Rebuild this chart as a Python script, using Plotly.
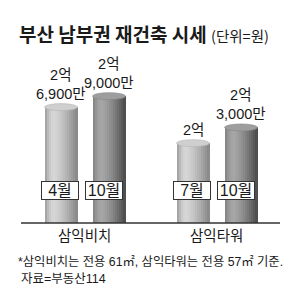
import math
import plotly.graph_objects as go

# ---------------- data ----------------
groups = ["삼익비치", "삼익타워"]
months = [["4월", "10월"], ["7월", "10월"]]
values = [[26900, 29000], [20000, 23000]]   # 단위: 만원
title_text = "부산 남부권 재건축 시세"
unit_text = "(단위=원)"
note_text = "*삼익비치는 전용 61㎡, 삼익타워는 전용 57㎡ 기준."
source_text = "자료=부동산114"

# ---------------- style / layout ----------------
W, H = 300, 307
Y_MIN, Y_MAX = 4700, 47420
BASE_PX = 223
Y_DOMAIN = [(H - BASE_PX) / H, 1.0]
FIRST_X, GROUP_STEP, BAR_STEP = 61, 132, 48
BAR_W = 33
N_STRIPS = 16
# lightness profile (left edge, highlight, right edge) for 1st / 2nd bar of a group
TONES = [(0x9a, 0xd6, 0x86), (0x80, 0xa6, 0x4a)]
TOP_FILL = ["#cfcfcf", "#9e9e9e"]
TOP_LINE = ["#b4b4b4", "#858585"]
BOX_DX = [-1.5, -5]
NARROW = "Liberation Sans Narrow, Liberation Sans, Noto Sans CJK KR, sans-serif"
KR = "Noto Sans CJK KR, sans-serif"
INK = "#1a1a1a"

centers, vals, tones, labels, box_dx = [], [], [], [], []
for g, (ms, vs) in enumerate(zip(months, values)):
    for i, (m, v) in enumerate(zip(ms, vs)):
        centers.append(FIRST_X + g * GROUP_STEP + i * BAR_STEP)
        vals.append(v)
        tones.append(i)
        labels.append(m)
        box_dx.append(BOX_DX[i])


def shade(t, L0, Lp, Lr, tp=0.27):
    if t < tp:
        s = t / tp
        L = L0 + (Lp - L0) * math.sin(s * math.pi / 2)
    else:
        s = (t - tp) / (1 - tp)
        L = Lp - (Lp - Lr) * s ** 1.4
    L = int(round(max(0, min(255, L))))
    return f"rgb({L},{L},{L})"


fig = go.Figure()
sw = BAR_W / N_STRIPS
for k in range(N_STRIPS):
    t = (k + 0.5) / N_STRIPS
    cols = [shade(t, *TONES[tn]) for tn in tones]
    fig.add_trace(go.Bar(
        x=centers, y=vals,
        offset=-BAR_W / 2 + k * sw,
        width=sw + (0.5 if k < N_STRIPS - 1 else 0),
        marker=dict(color=cols, line=dict(width=0)),
        showlegend=False, hoverinfo="skip",
    ))

shapes = []
annotations = []
for c, v, tn, lab, dx in zip(centers, vals, tones, labels, box_dx):
    # cylinder top
    shapes.append(dict(
        type="circle", xref="x", yref="y", ysizemode="pixel", yanchor=v,
        x0=c - BAR_W / 2, x1=c + BAR_W / 2, y0=-3.5, y1=3.5,
        fillcolor=TOP_FILL[tn], line=dict(color=TOP_LINE[tn], width=0.6),
        layer="above",
    ))
    # value label
    eok, man = divmod(v, 10000)
    lines = [f"{eok}억"]
    if man:
        lines.append(f"{man:,}만")
    annotations.append(dict(
        x=c, y=v, xref="x", yref="y", text="<br>".join(lines), showarrow=False,
        yanchor="bottom", xanchor="center", yshift=4, borderpad=0,
        font=dict(family=NARROW, size=14.5, color=INK),
    ))
    # month box
    annotations.append(dict(
        x=c + dx, y=Y_MIN, xref="x", yref="y", text=lab, showarrow=False,
        yanchor="middle", xanchor="center", yshift=BASE_PX - 190.5,
        width=36, height=17, bgcolor="white", bordercolor="#333333",
        borderwidth=1, borderpad=0,
        font=dict(family=NARROW, size=16, color=INK),
    ))

# group labels
for g, name in enumerate(groups):
    cs = centers[g * 2:(g + 1) * 2]
    annotations.append(dict(
        x=sum(cs) / len(cs) - 1, y=Y_MIN, xref="x", yref="y", text=name,
        showarrow=False, yanchor="middle", xanchor="center", yshift=-11,
        font=dict(family=KR, size=14.5, color=INK),
    ))

# baseline
shapes.append(dict(
    type="line", xref="x", yref="paper", x0=21, x1=280,
    y0=Y_DOMAIN[0], y1=Y_DOMAIN[0], line=dict(color="#333333", width=1.5),
    layer="above",
))

# title
annotations.append(dict(
    x=17 / W, y=(H - 33) / H, xref="paper", yref="paper", xanchor="left",
    yanchor="middle", showarrow=False,
    text=f"<b>{title_text}</b> <span style='font-size:14.5px'>{unit_text}</span>",
    font=dict(family=KR, size=19, color=INK),
))
# notes
annotations.append(dict(
    x=16 / W, y=(H - 262) / H, xref="paper", yref="paper", xanchor="left",
    yanchor="middle", showarrow=False, text=note_text,
    font=dict(family=NARROW, size=12.3, color=INK),
))
annotations.append(dict(
    x=19 / W, y=(H - 279) / H, xref="paper", yref="paper", xanchor="left",
    yanchor="middle", showarrow=False, text=source_text,
    font=dict(family=NARROW, size=12.5, color=INK),
))

fig.update_layout(
    width=W, height=H, margin=dict(l=0, r=0, t=0, b=0),
    paper_bgcolor="white", plot_bgcolor="white",
    barmode="overlay", bargap=0,
    xaxis=dict(range=[0, W], visible=False, fixedrange=True),
    yaxis=dict(range=[Y_MIN, Y_MAX], domain=Y_DOMAIN, visible=False, fixedrange=True),
    shapes=shapes, annotations=annotations,
)

fig.write_html("out.html", config={"displayModeBar": False})
